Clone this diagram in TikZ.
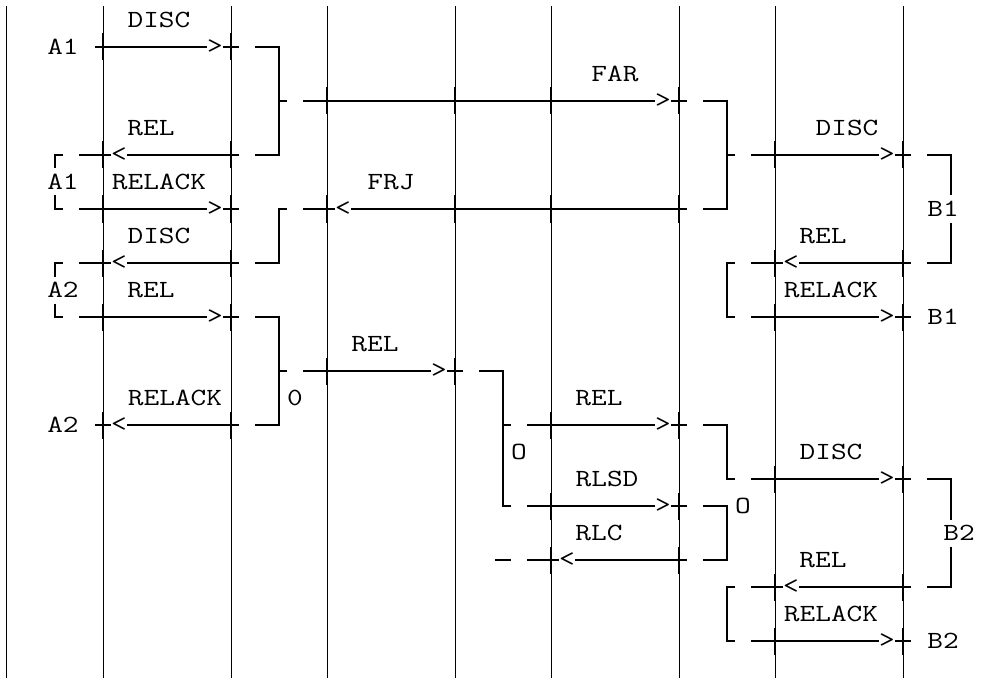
\documentclass[tikz,border=0pt]{standalone}
\usepackage{fontspec}
\newfontfamily\diagmono[FakeStretch=1.235]{Latin Modern Mono}
\usepackage{tikz}

\begin{document}
\begin{tikzpicture}[
    x=12pt, y={(0pt,-20.25pt)},
    life/.style={line width=0.75pt},
    msg/.style={line width=1.5pt},
    tick/.style={line width=1.5pt},
    brk/.style={line width=1.5pt},
    lbl/.style={font=\diagmono\fontsize{18.5}{22}\selectfont, inner sep=0pt},
]
\useasboundingbox (-0.4375,-0.7407) rectangle (61.4375,24.3704);

% Lifelines
\foreach \c in {0,6,14,20,28,34,42,48,56}
  \draw[life] (\c,-0.52) -- (\c,24.37);

% Crossing ticks
\foreach \c/\r in {6/1,14/1, 20/3,28/3,34/3,42/3, 6/5,14/5,48/5,56/5,
    6/7,14/7,20/7,28/7,34/7,42/7, 6/9,14/9,48/9,56/9, 6/11,14/11,48/11,56/11,
    20/13,28/13, 6/15,14/15,34/15,42/15, 48/17,56/17, 34/18,42/18,
    34/20,42/20, 48/21,56/21, 48/23,56/23}
  \draw[tick] (\c,\r-0.5) -- (\c,\r+0.5);

% Left side: A1 / A2
\node[lbl] (a1top) at (3.5,1) {A1};
\node[lbl] (disc1) at (9.5,0) {DISC};
\draw[msg] (5.5,1) -- (12.5,1) (13.5,1) -- (14.5,1);
\node[lbl] (gt1) at (13,1) {>};

\node[lbl] (rel1) at (9,4) {REL};
\draw[msg] (4.5,5) -- (6.5,5) (7.5,5) -- (14.5,5);
\node[lbl] (lt1) at (7,5) {<};

\node[lbl] (a1mid) at (3.5,6) {A1};
\node[lbl] (relack1) at (9.5,6) {RELACK};
\draw[msg] (4.5,7) -- (12.5,7) (13.5,7) -- (14.5,7);
\node[lbl] (gt2) at (13,7) {>};
\draw[brk] (3.5,5) -- (3,5) -- (3,5.5) (3,6.5) -- (3,7) -- (3.5,7);

\node[lbl] (disc2) at (9.5,8) {DISC};
\draw[msg] (4.5,9) -- (6.5,9) (7.5,9) -- (14.5,9);
\node[lbl] (lt2) at (7,9) {<};

\node[lbl] (a2mid) at (3.5,10) {A2};
\node[lbl] (rel2) at (9,10) {REL};
\draw[msg] (4.5,11) -- (12.5,11) (13.5,11) -- (14.5,11);
\node[lbl] (gt3) at (13,11) {>};
\draw[brk] (3.5,9) -- (3,9) -- (3,9.5) (3,10.5) -- (3,11) -- (3.5,11);

\node[lbl] (relack2) at (10.5,14) {RELACK};
\node[lbl] (a2bot) at (3.5,15) {A2};
\draw[msg] (5.5,15) -- (6.5,15) (7.5,15) -- (14.5,15);
\node[lbl] (lt3) at (7,15) {<};

% Brackets between left and middle
\draw[brk] (15.5,1) -- (17,1) -- (17,5) -- (15.5,5) (17,3) -- (17.5,3);
\draw[brk] (17.5,7) -- (17,7) -- (17,9) -- (15.5,9);
\draw[brk] (15.5,11) -- (17,11) -- (17,15) -- (15.5,15) (17,13) -- (17.5,13);
\node[lbl] (zero) at (18,14) {0};

% Middle: FAR / FRJ / REL
\node[lbl] (far) at (38,2) {FAR};
\draw[msg] (18.5,3) -- (40.5,3) (41.5,3) -- (42.5,3);
\node[lbl] (gt4) at (41,3) {>};

\node[lbl] (frj) at (24,6) {FRJ};
\draw[msg] (18.5,7) -- (20.5,7) (21.5,7) -- (42.5,7);
\node[lbl] (lt4) at (21,7) {<};

\node[lbl] (rel3) at (23,12) {REL};
\draw[msg] (18.5,13) -- (26.5,13) (27.5,13) -- (28.5,13);
\node[lbl] (gt5) at (27,13) {>};

\draw[brk] (29.5,13) -- (31,13) -- (31,18) -- (31.5,18) (31,15) -- (31.5,15);
\node[lbl] (omid) at (32,16) {O};

\node[lbl] (rel4) at (37,14) {REL};
\draw[msg] (32.5,15) -- (40.5,15) (41.5,15) -- (42.5,15);
\node[lbl] (gt6) at (41,15) {>};

\node[lbl] (rlsd) at (37.5,17) {RLSD};
\draw[msg] (32.5,18) -- (40.5,18) (41.5,18) -- (42.5,18);
\node[lbl] (gt7) at (41,18) {>};

\node[lbl] (rlc) at (37,19) {RLC};
\draw[msg] (30.5,20) -- (31.5,20) (32.5,20) -- (34.5,20) (35.5,20) -- (42.5,20);
\node[lbl] (lt5) at (35,20) {<};

% Brackets between middle and right
\draw[brk] (43.5,3) -- (45,3) -- (45,7) -- (43.5,7) (45,5) -- (45.5,5);
\draw[brk] (45.5,9) -- (45,9) -- (45,11) -- (45.5,11);
\draw[brk] (43.5,15) -- (45,15) -- (45,17) -- (45.5,17);
\draw[brk] (43.5,18) -- (45,18) -- (45,20) -- (43.5,20);
\draw[brk] (45.5,21) -- (45,21) -- (45,23) -- (45.5,23);
\node[lbl] (oright) at (46,18) {O};

% Right side: B1 / B2
\node[lbl] (disc3) at (52.5,4) {DISC};
\draw[msg] (46.5,5) -- (54.5,5) (55.5,5) -- (56.5,5);
\node[lbl] (gt8) at (55,5) {>};

\node[lbl] (rel5) at (51,8) {REL};
\draw[msg] (46.5,9) -- (48.5,9) (49.5,9) -- (56.5,9);
\node[lbl] (lt6) at (49,9) {<};

\node[lbl] (relack3) at (51.5,10) {RELACK};
\draw[msg] (46.5,11) -- (54.5,11) (55.5,11) -- (56.5,11);
\node[lbl] (gt9) at (55,11) {>};

\draw[brk] (57.5,5) -- (59,5) -- (59,6.5) (59,7.5) -- (59,9) -- (57.5,9);
\node[lbl] (b1mid) at (58.5,7) {B1};
\node[lbl] (b1bot) at (58.5,11) {B1};

\node[lbl] (disc4) at (51.5,16) {DISC};
\draw[msg] (46.5,17) -- (54.5,17) (55.5,17) -- (56.5,17);
\node[lbl] (gt10) at (55,17) {>};

\node[lbl] (rel6) at (51,20) {REL};
\draw[msg] (46.5,21) -- (48.5,21) (49.5,21) -- (56.5,21);
\node[lbl] (lt7) at (49,21) {<};

\node[lbl] (relack4) at (51.5,22) {RELACK};
\draw[msg] (46.5,23) -- (54.5,23) (55.5,23) -- (56.5,23);
\node[lbl] (gt11) at (55,23) {>};

\draw[brk] (57.5,17) -- (59,17) -- (59,18.5) (59,19.5) -- (59,21) -- (57.5,21);
\node[lbl] (b2mid) at (59.5,19) {B2};
\node[lbl] (b2bot) at (58.5,23) {B2};

\end{tikzpicture}
\end{document}
